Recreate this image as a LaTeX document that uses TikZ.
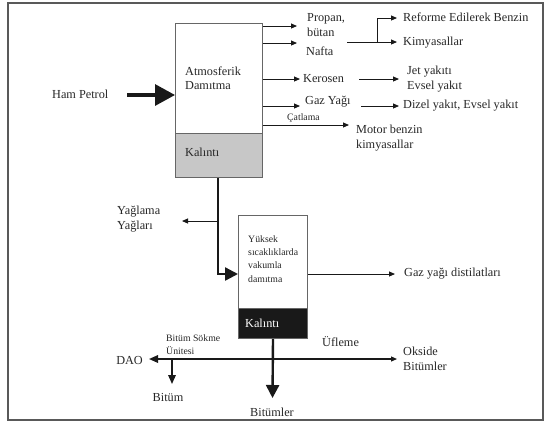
\documentclass[tikz,border=0pt]{standalone}
\usepackage{fontspec}
\setmainfont{Liberation Serif}
\usetikzlibrary{arrows.meta}
\begin{document}
\begin{tikzpicture}[x=1bp,y=-1bp,
  txt/.style={inner sep=0pt,text=black!85,font=\fontsize{12.3}{14.5}\selectfont,align=left},
  smalltxt/.style={inner sep=0pt,text=black!85,font=\fontsize{9.8}{13}\selectfont,align=left},
  arr/.style={draw=black!90,line width=0.9bp,-{Triangle[length=6bp,width=5bp]}},
  barr/.style={draw=black!90,line width=1.6bp,-{Triangle[length=9bp,width=7.5bp]}},
  thk/.style={draw=black!90,line width=2.4bp,-{Triangle[length=13bp,width=13bp]}},
  hthk/.style={draw=black!90,line width=3.2bp,-{Triangle[length=20bp,width=21bp]}},
  boxpart/.style={draw=black!60,line width=1bp,anchor=north west,inner sep=0pt}]
\useasboundingbox (0,0) rectangle (545,423);
\draw[black!65,line width=1.4bp] (8,3) rectangle (543,420);

% atmospheric distillation column
\node[boxpart,minimum width=87bp,minimum height=110bp,fill=white] (atm) at (175,23) {};
\node[boxpart,minimum width=87bp,minimum height=44bp,fill=black!22] (kal1) at (175,133) {};
\node[txt,anchor=west] (atmtxt) at (185,78) {Atmosferik\\Damıtma};
\node[txt,anchor=west] (kal1txt) at (185,152) {Kalıntı};

% feed
\node[txt,anchor=west] (hp) at (52,94) {Ham Petrol};
\coordinate (hpS) at (127,95);
\draw[hthk] (hpS) -- (hpS -| atm.west);

% products
\node[txt,anchor=west] (propan) at (307,25) {Propan,\\bütan};
\node[txt,anchor=west] (nafta) at (306,51) {Nafta};
\node[txt,anchor=west] (kero) at (303,79) {Kerosen};
\node[txt,anchor=west] (gaz) at (305,102) {Gaz Yağı};
\node[smalltxt,anchor=west] (catl) at (287,118) {Çatlama};
\node[txt,anchor=west] (motor) at (356,138) {Motor benzin\\kimyasallar};
\coordinate (t1) at (297,26);
\coordinate (t2) at (297,43);
\coordinate (t3) at (300,79);
\coordinate (t4) at (300,106);
\coordinate (t5) at (349,125);
\draw[arr] (t1 -| atm.east) -- (t1);
\draw[arr] (t2 -| atm.east) -- (t2);
\draw[arr] (t3 -| atm.east) -- (t3);
\draw[arr] (t4 -| atm.east) -- (t4);
\draw[arr] (t5 -| atm.east) -- (t5);

% second-level products
\node[txt,anchor=west] (ref) at (403,17) {Reforme Edilerek Benzin};
\node[txt,anchor=west] (kim) at (403,43) {Kimyasallar};
\node[txt,anchor=west] (jet) at (407,79) {Jet yakıtı\\Evsel yakıt};
\node[txt,anchor=west] (diz) at (403,106) {Dizel yakıt, Evsel yakıt};
\coordinate (b0) at (347,42);
\coordinate (bj) at (377,42);
\coordinate (b1) at (397,18);
\coordinate (b2) at (397,42);
\draw[arr] (b0) -- (b2);
\draw[arr] (bj) |- (b1);
\coordinate (k0) at (359,79);
\coordinate (k1) at (399,79);
\coordinate (g0) at (361,106);
\coordinate (g1) at (399,106);
\draw[arr] (k0) -- (k1);
\draw[arr] (g0) -- (g1);

% vacuum distillation
\node[boxpart,minimum width=69bp,minimum height=93bp,fill=white] (vac) at (238,215) {};
\node[boxpart,minimum width=69bp,minimum height=30bp,fill=black!90] (kal2) at (238,308) {};
\node[smalltxt,anchor=west,font=\fontsize{9.8}{13.3}\selectfont] (vactxt) at (248,259) {Yüksek\\sıcaklıklarda\\vakumla\\damıtma};
\node[txt,anchor=west,text=white] (kal2txt) at (245,323) {Kalıntı};

\coordinate (j) at (218,274);
\coordinate (yg) at (218,221);
\coordinate (ygT) at (182,221);
\draw[thk] (kal1.south -| j) -- (j) -- (j -| vac.west);
\draw[arr] (yg) -- (ygT);
\node[txt,anchor=west] (yag) at (117,219) {Yağlama\\Yağları};

\coordinate (dT) at (395,274);
\draw[arr] (dT -| vac.east) -- (dT);
\node[txt,anchor=west] (dist) at (404,274) {Gaz yağı distilatları};

% bottoms
\coordinate (h) at (272.5,359);
\coordinate (bt) at (272.5,398);
\coordinate (daoT) at (149,359);
\coordinate (okT) at (397,359);
\coordinate (s0) at (172,359);
\coordinate (s1) at (172,384);
\draw[barr] (h) -- (daoT);
\draw[draw=black!90,line width=1.2bp,-{Triangle[length=6bp,width=5bp]}] (h) -- (okT);
\draw[barr] (s0) -- (s1);
\draw[thk] (kal2.south) -- (bt);

\node[txt,anchor=east] (dao) at (143,360) {DAO};
\node[smalltxt,anchor=west] (sok) at (166,345) {Bitüm Sökme\\Ünitesi};
\node[txt] (bitum) at (168,397) {Bitüm};
\node[txt,anchor=west] (ufl) at (322,342) {Üfleme};
\node[txt,anchor=west] (oks) at (403,359) {Okside\\Bitümler};
\node[txt] (bitumler) at (272,412) {Bitümler};
\end{tikzpicture}
\end{document}
